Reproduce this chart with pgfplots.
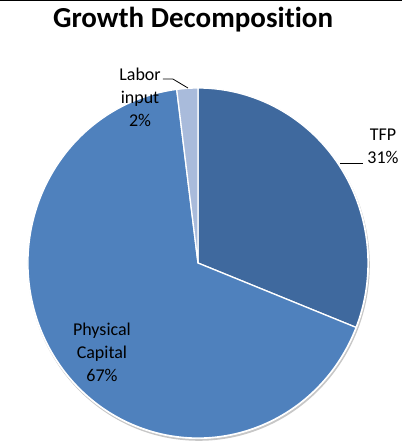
\documentclass[border=0pt]{standalone}
\usepackage{pgfplots}
\usepackage{pgfplotstable}
\usepackage{fontspec}
\setmainfont[Ligatures=NoCommon]{Carlito}
\pgfplotsset{compat=1.18}
\definecolor{tfp}{HTML}{3F699E}
\definecolor{phys}{HTML}{4F81BD}
\definecolor{labor}{HTML}{A9BBDB}

\pgfplotstableread{
label value color
TFP 31 tfp
Physical 67 phys
Labor 2 labor
}\piedata

\begin{document}
\begin{tikzpicture}
\begin{axis}[hide axis,clip=false,x=170pt,y=175pt,
 xmin=-1.1647,xmax=1.2,ymin=-1.0286,ymax=1.5029]
\coordinate (bl) at (rel axis cs:0,0);
\coordinate (tr) at (rel axis cs:1,1);
\draw[line width=1.5pt] ([yshift=-0.75pt]rel axis cs:0,1) -- ([yshift=-0.75pt]rel axis cs:1,1);
% shadow
\fill[black!22] ([xshift=0.8pt,yshift=-1.8pt]axis cs:0,0) ellipse[x radius=171pt,y radius=176pt];
\fill[white] (axis cs:0,0) ellipse[x radius=171pt,y radius=176pt];
\pgfplotstablegetrowsof{\piedata}
\pgfmathtruncatemacro\lastrow{\pgfplotsretval-1}
\def\startangle{90}
\pgfplotsforeachungrouped \i in {0,...,\lastrow}{
  \pgfplotstablegetelem{\i}{value}\of\piedata \let\v\pgfplotsretval
  \pgfplotstablegetelem{\i}{color}\of\piedata \let\c\pgfplotsretval
  \pgfmathsetmacro\endangle{\startangle-3.6*\v}
  \edef\temp{\noexpand\filldraw[fill=\c,draw=white,line width=1.3pt,line join=round]
    (axis cs:0,0) -- (axis cs:{cos(\startangle)},{sin(\startangle)})
    arc[start angle=\startangle,end angle=\endangle,x radius=170pt,y radius=175pt] -- cycle;}
  \temp
  \global\let\startangle\endangle
}
% title and labels
\node[font=\fontsize{29}{34}\bfseries\selectfont,inner sep=0] at (axis cs:-0.029,1.389) {Growth Decomposition};
\node[font=\fontsize{18}{23}\selectfont,align=center,inner sep=0] at (axis cs:1.088,0.669) {TFP\\31\%};
\draw[line width=0.8pt] (axis cs:0.835,0.571) -- (axis cs:0.971,0.571);
\node[font=\fontsize{18}{23}\selectfont,align=center,inner sep=0] at (axis cs:-0.341,0.949) {Labor\\input\\2\%};
\draw[line width=0.8pt] (axis cs:-0.206,1.051) -- (axis cs:-0.147,1.051) -- (axis cs:-0.059,1.0);
\node[font=\fontsize{18}{23}\selectfont,align=center,inner sep=0] at (axis cs:-0.565,-0.509) {Physical\\Capital\\67\%};
\end{axis}
\pgfresetboundingbox
\useasboundingbox (bl) rectangle (tr);
\end{tikzpicture}
\end{document}
